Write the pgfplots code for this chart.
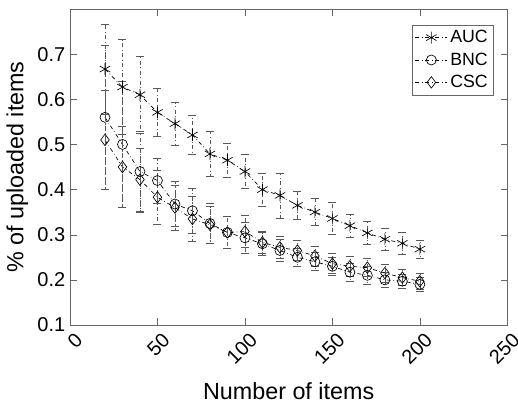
\documentclass[border=0pt]{standalone}
\usepackage{fontspec}
\setmainfont{Liberation Sans}
\usepackage{pgfplots}
\usepackage{pgfplotstable}
\pgfplotsset{compat=1.18}

\pgfplotstableread{
x y e
20 0.667 0.100
30 0.627 0.105
40 0.610 0.085
50 0.571 0.054
60 0.546 0.047
70 0.521 0.043
80 0.479 0.050
90 0.465 0.038
100 0.440 0.038
110 0.400 0.037
120 0.387 0.050
130 0.365 0.030
140 0.350 0.030
150 0.336 0.035
160 0.320 0.025
170 0.304 0.025
180 0.290 0.025
190 0.281 0.025
200 0.268 0.020
}\auc

\pgfplotstableread{
x y e
20 0.560 0.160
30 0.500 0.140
40 0.440 0.090
50 0.420 0.050
60 0.368 0.050
70 0.353 0.050
80 0.325 0.045
90 0.305 0.035
100 0.293 0.035
110 0.280 0.025
120 0.265 0.025
130 0.250 0.020
140 0.240 0.020
150 0.230 0.020
160 0.217 0.020
170 0.210 0.020
180 0.200 0.017
190 0.197 0.015
200 0.190 0.015
}\bnc

\pgfplotstableread{
x y e
20 0.510 0.110
30 0.450 0.090
40 0.422 0.070
50 0.383 0.060
60 0.360 0.050
70 0.335 0.050
80 0.322 0.040
90 0.305 0.035
100 0.307 0.035
110 0.283 0.025
120 0.272 0.025
130 0.265 0.022
140 0.253 0.022
150 0.236 0.022
160 0.230 0.022
170 0.227 0.020
180 0.215 0.020
190 0.205 0.018
200 0.197 0.018
}\csc

\begin{document}
\begin{tikzpicture}
\begin{axis}[
  scale only axis,
  width=328pt, height=237pt,
  xmin=0, xmax=250, ymin=0.1, ymax=0.8,
  xtick={0,50,100,150,200,250},
  ytick={0.1,0.2,0.3,0.4,0.5,0.6,0.7},
  tick align=inside,
  tick pos=both,
  major tick length=5pt,
  axis line style={gray!80!black},
  tick style={gray!80!black},
  /pgf/number format/assume math mode=true,
  yticklabel style={/pgf/number format/fixed,/pgf/number format/precision=1,/pgf/number format/fixed zerofill},
  ticklabel style={font=\fontsize{15}{18}\selectfont},
  xticklabel style={rotate=45, anchor=north east, xshift=2pt, yshift=-2pt},
  xlabel={Number of items},
  ylabel={\% of uploaded items},
  label style={font=\fontsize{17.5}{20}\selectfont},
  xlabel style={yshift=-5pt},
  legend style={at={(0.968,0.95)}, anchor=north east, draw=gray!80!black,
    font=\fontsize{13.3}{16}\selectfont, inner sep=2pt, row sep=2pt,
    cells={anchor=west}},
  legend image code/.code={\draw[mark repeat=2,mark phase=2] plot coordinates {(0cm,0cm) (0.42cm,0cm) (0.84cm,0cm)};},
  error bars/y dir=both,
  error bars/y explicit,
  error bars/error bar style={gray!70!black, line width=0.5pt},
  error bars/error mark options={rotate=90, gray!70!black, mark size=3pt, line width=0.5pt},
]
\addplot[black, line width=0.5pt, dash dot, mark=asterisk, mark size=4.5pt, mark options={solid}]
  table[x=x, y=y, y error=e] {\auc};
\addlegendentry{AUC}
\addplot[black, line width=0.5pt, dash dot, mark=o, mark size=3.75pt, mark options={solid}]
  table[x=x, y=y, y error=e] {\bnc};
\addlegendentry{BNC}
\addplot[black, line width=0.5pt, dash dot, mark=diamond, mark size=4.3pt, mark options={solid}]
  table[x=x, y=y, y error=e] {\csc};
\addlegendentry{CSC}
\end{axis}
\pgfresetboundingbox
\path[use as bounding box] (current axis.south west) ++(-52.5pt,-58.5pt) rectangle ++(388.5pt,302.25pt);
\end{tikzpicture}
\end{document}
